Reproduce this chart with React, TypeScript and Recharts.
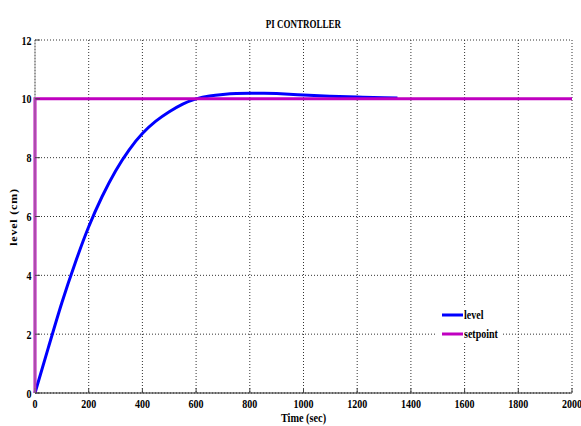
import React from 'react';
import { LineChart, Line, XAxis, YAxis, CartesianGrid } from 'recharts';

const timeSec = [0, 50, 100, 150, 200, 250, 300, 350, 400, 450, 500, 550, 600, 650, 700, 750, 800, 850, 900, 1000, 1100, 1200, 1300, 1350];
const levelCm = [0, 1.55, 3.07, 4.43, 5.65, 6.68, 7.55, 8.26, 8.82, 9.24, 9.56, 9.82, 10.0, 10.1, 10.15, 10.18, 10.19, 10.19, 10.18, 10.13, 10.09, 10.06, 10.04, 10.03];
const setpointTime = [0, 0, 2000];
const setpointCm = [0, 10, 10];
const xTicks = [0, 200, 400, 600, 800, 1000, 1200, 1400, 1600, 1800, 2000];
const yTicks = [0, 2, 4, 6, 8, 10, 12];

const levelData = timeSec.map((t, i) => ({ t, level: levelCm[i] }));
const spData = setpointTime.map((t, i) => ({ t, setpoint: setpointCm[i] }));

const FONT = '"Liberation Serif", "Times New Roman", serif';
const BLUE = '#0000ff';
const MAGENTA = '#c000c0';

const legendItems = [
  { name: 'level', color: BLUE },
  { name: 'setpoint', color: MAGENTA },
];

const XTick = (props: any) => {
  const { x, y, payload } = props;
  return (
    <g transform={`translate(${x},${y + 19.5})`}>
      <text x={0} y={0} textAnchor="middle" transform="scale(0.77,1)" fontFamily={FONT} fontWeight="bold" fontSize={13} fill="#000">
        {payload.value}
      </text>
    </g>
  );
};

const YTick = (props: any) => {
  const { x, y, payload } = props;
  return (
    <g transform={`translate(${x - 8.5},${y + 4.5})`}>
      <text x={0} y={0} textAnchor="end" transform="scale(0.77,1)" fontFamily={FONT} fontWeight="bold" fontSize={13} fill="#000">
        {payload.value}
      </text>
    </g>
  );
};

export default function App() {
  return (
    <div style={{ position: 'absolute', left: 0, top: 0, width: 581, height: 426, background: '#fff', overflow: 'hidden' }}>
      <LineChart width={581} height={426} margin={{ top: 40, right: 9, bottom: 0, left: 0 }}>
        <CartesianGrid stroke="#333" strokeDasharray="1 2" />
        <XAxis
          dataKey="t"
          type="number"
          domain={[0, 2000]}
          ticks={xTicks}
          height={33}
          tickSize={-5}
          tickMargin={0}
          tick={<XTick />}
          axisLine={{ stroke: '#222' }}
          tickLine={{ stroke: '#444' }}
          interval={0}
        />
        <XAxis
          xAxisId="top"
          orientation="top"
          type="number"
          domain={[0, 2000]}
          ticks={xTicks}
          height={0}
          tickSize={-5}
          tick={false}
          axisLine={{ stroke: '#444' }}
          tickLine={{ stroke: '#444' }}
        />
        <YAxis
          type="number"
          domain={[0, 12]}
          ticks={yTicks}
          width={35}
          tickSize={-5}
          tickMargin={0}
          tick={<YTick />}
          axisLine={{ stroke: '#999' }}
          tickLine={{ stroke: '#444' }}
          interval={0}
        />
        <YAxis
          yAxisId="right"
          orientation="right"
          type="number"
          domain={[0, 12]}
          ticks={yTicks}
          width={0}
          tickSize={-5}
          tick={false}
          axisLine={{ stroke: '#777' }}
          tickLine={{ stroke: '#444' }}
        />
        <Line data={levelData} dataKey="level" name="level" type="natural" stroke={BLUE} strokeWidth={3} dot={false} isAnimationActive={false} />
        <Line data={spData} dataKey="setpoint" name="setpoint" type="linear" stroke={MAGENTA} strokeWidth={3} dot={false} isAnimationActive={false} />
      </LineChart>
      <div style={{ position: 'absolute', left: 437, top: 305, width: 65, height: 38, background: '#fff', padding: '0 0 0 5px', boxSizing: 'border-box' }}>
        {legendItems.map((it) => (
          <div key={it.name} style={{ display: 'flex', alignItems: 'center', height: 19 }}>
            <svg width={22} height={6} style={{ display: 'block', flex: 'none' }}>
              <line x1={0} y1={3} x2={21} y2={3} stroke={it.color} strokeWidth={3} />
            </svg>
            <span style={{ fontFamily: FONT, fontWeight: 'bold', fontSize: 13, lineHeight: '19px', display: 'inline-block', transform: 'scaleX(0.77)', transformOrigin: 'left center', whiteSpace: 'nowrap' }}>
              {it.name}
            </span>
          </div>
        ))}
      </div>
      <div style={{ position: 'absolute', left: 35, width: 537, top: 16, lineHeight: '16px', textAlign: 'center', fontFamily: FONT, fontWeight: 'bold', fontSize: 12, transform: 'scaleX(0.75)', whiteSpace: 'nowrap' }}>
        PI CONTROLLER
      </div>
      <div style={{ position: 'absolute', left: 35, width: 537, top: 411, height: 14, lineHeight: '14px', textAlign: 'center', fontFamily: FONT, fontWeight: 'bold', fontSize: 13, transform: 'scaleX(0.79)', whiteSpace: 'nowrap' }}>
        Time (sec)
      </div>
      <div style={{ position: 'absolute', left: -36, width: 100, top: 209, height: 16, lineHeight: '16px', textAlign: 'center', fontFamily: FONT, fontWeight: 'bold', fontSize: 12, letterSpacing: 0.8, transform: 'rotate(-90deg) scaleY(0.85)', whiteSpace: 'nowrap' }}>
        level (cm)
      </div>
    </div>
  );
}
